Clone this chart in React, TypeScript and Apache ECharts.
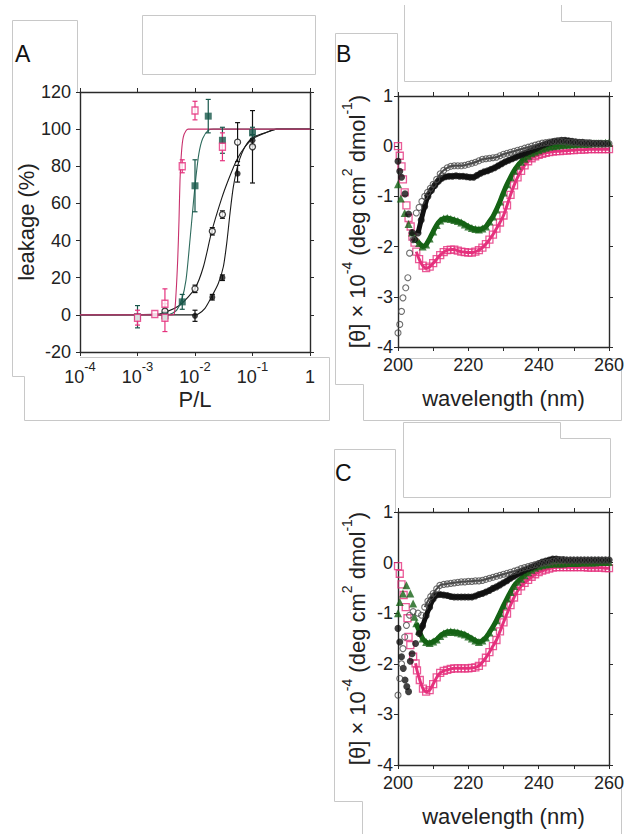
import React, { useEffect, useRef } from 'react';
import * as echarts from 'echarts';

// ---------- Panel A : leakage vs P/L ----------
const A_PINK_X = [1e-3, 2e-3, 3e-3, 3e-3, 6e-3, 1e-2, 3e-2];
const A_PINK_Y = [-1.5, 0.5, 6, -1.5, 80, 110, 90.5];
const A_PINK_ERR = [4, 0, 8, 7.5, 3.5, 5, 7.5];

const A_TEAL_X = [1e-3, 3e-3, 6e-3, 1e-2, 1.7e-2, 3e-2, 1e-1];
const A_TEAL_Y = [-1, -0.5, 7, 69.5, 107, 94, 98];
const A_TEAL_ERR = [6, 2, 4, 14, 9, 7, 3];

const A_OPEN_X = [3e-3, 1e-2, 2e-2, 3e-2, 5.5e-2, 1e-1];
const A_OPEN_Y = [2, 14, 45, 54, 93, 90.5];
const A_OPEN_ERR = [1, 2, 2, 2, 10.5, 19.5];

const A_FILL_X = [3e-3, 1e-2, 2e-2, 3e-2, 5.5e-2, 1e-1];
const A_FILL_Y = [0.5, -0.5, 9.5, 20, 76, 94];
const A_FILL_ERR = [1, 3, 1.5, 1.5, 4.5, 3];

const A_PINK_CURVE: [number, number][] = [
  [1e-4, 0], [3.9e-3, 0], [4.36e-3, 0.5], [4.68e-3, 11.6], [5.0e-3, 29.5], [5.27e-3, 51],
  [5.49e-3, 72.6], [5.86e-3, 88.7], [6.27e-3, 95.9], [6.97e-3, 99.1], [7.63e-3, 100], [1, 100],
];
const A_TEAL_CURVE: [number, number][] = [
  [1e-4, 0], [3.2e-3, 0], [3.67e-3, 0.3], [4.81e-3, 2.6], [5.86e-3, 8], [6.97e-3, 18.7],
  [8.18e-3, 40.3], [9.35e-3, 60], [1.04e-2, 74.4], [1.17e-2, 87], [1.36e-2, 95],
  [1.71e-2, 99.5], [2.1e-2, 100], [1, 100],
];
const A_OPEN_CURVE: [number, number][] = [
  [1e-4, 0], [2.0e-3, 0.3], [2.8e-3, 1], [5.49e-3, 5.3], [1e-2, 14.3], [1.4e-2, 25.9],
  [1.95e-2, 44.8], [2.91e-2, 62.7], [3.8e-2, 72.6], [5.31e-2, 83.4], [7.41e-2, 90.5],
  [0.103, 95], [0.177, 98.3], [0.264, 100], [1, 100],
];
const A_FILL_CURVE: [number, number][] = [
  [1e-4, 0], [9.5e-3, 0], [1.14e-2, 0.5], [1.49e-2, 3.5], [1.95e-2, 9.8], [2.55e-2, 17],
  [3.11e-2, 25.9], [3.56e-2, 38.5], [4.06e-2, 54.6], [4.65e-2, 69], [5.68e-2, 81.6],
  [7.41e-2, 90.5], [0.103, 95.6], [0.177, 98.3], [0.264, 100], [1, 100],
];

// ---------- Panel B : CD spectra ----------
const B_PINK: [number, number][] = [
  [200, 0], [200.5, -0.19], [201, -0.4], [201.4, -0.66], [201.9, -0.92], [202.4, -1.18], [203, -1.43],
  [203.6, -1.6], [204.1, -1.8], [204.7, -1.92], [205.2, -2.1], [206, -2.25], [207, -2.38], [208, -2.43],
  [209, -2.4], [210, -2.33], [211, -2.25], [212, -2.17], [213, -2.11], [214, -2.07], [215, -2.06],
  [216, -2.06], [217, -2.08], [218, -2.1], [219, -2.11], [220, -2.12], [221, -2.12], [222, -2.1],
  [223, -2.07], [224, -2.02], [225, -1.95], [226, -1.86], [227, -1.76], [228, -1.64], [229, -1.52],
  [230, -1.38], [231, -1.18], [232, -0.97], [233, -0.78], [234, -0.62], [235, -0.49], [236, -0.38],
  [237, -0.3], [238, -0.24], [239, -0.2], [240, -0.17], [241, -0.15], [242, -0.13], [243, -0.12],
  [244, -0.11], [245, -0.1], [246, -0.1], [247, -0.09], [248, -0.09], [249, -0.08], [250, -0.08],
  [251, -0.07], [252, -0.07], [253, -0.07], [254, -0.06], [255, -0.06], [256, -0.06], [257, -0.06],
  [258, -0.06], [259, -0.06], [260, -0.06],
];
const B_GREEN: [number, number][] = [
  [200, -0.76], [200.8, -1.04], [201.9, -1.33], [203, -1.55], [204, -1.72], [205, -1.85], [206, -1.93],
  [207, -2.0], [208, -1.96], [209, -1.84], [210, -1.7], [211, -1.57], [212, -1.48], [213, -1.44],
  [214, -1.43], [215, -1.45], [216, -1.47], [217, -1.49], [218, -1.52], [219, -1.56], [220, -1.6],
  [221, -1.63], [222, -1.65], [223, -1.66], [224, -1.64], [225, -1.6], [226, -1.5], [227, -1.4],
  [228, -1.26], [229, -1.1], [230, -0.92], [231, -0.76], [232, -0.62], [233, -0.49], [234, -0.39],
  [235, -0.31], [236, -0.25], [237, -0.19], [238, -0.14], [239, -0.11], [240, -0.08], [241, -0.05],
  [242, -0.03], [243, -0.01], [244, 0], [245, 0.01], [246, 0.02], [247, 0.03], [248, 0.03], [249, 0.04],
  [250, 0.04], [251, 0.05], [252, 0.05], [253, 0.05], [254, 0.05], [255, 0.06], [256, 0.06],
  [257, 0.06], [258, 0.06], [259, 0.07], [260, 0.07],
];
const B_BLACK: [number, number][] = [
  [200, -0.3], [200.5, -0.5], [201, -0.62], [202, -0.95], [203, -1.35], [204, -1.72], [204.7, -1.86],
  [205.7, -1.73], [206.6, -1.47], [207.6, -1.2], [208.5, -1.0], [209.5, -0.88], [210.5, -0.78],
  [211.5, -0.7], [212.5, -0.64], [213.5, -0.61], [214.5, -0.6], [215.5, -0.6], [216.5, -0.59],
  [217.5, -0.6], [218.5, -0.6], [219.5, -0.61], [220.5, -0.62], [221.5, -0.62], [222.5, -0.58],
  [223.5, -0.54], [224.5, -0.51], [225.5, -0.49], [226.5, -0.46], [227.5, -0.43], [228.5, -0.39],
  [229.5, -0.35], [230.5, -0.31], [231.5, -0.28], [232.5, -0.25], [233.5, -0.22], [234.5, -0.19],
  [235.5, -0.16], [236.5, -0.13], [237.5, -0.1], [238.5, -0.07], [239.5, -0.04], [240.5, 0],
  [241.5, 0.03], [242.5, 0.06], [243.5, 0.08], [244.5, 0.1], [245.5, 0.11], [246.5, 0.12],
  [247.5, 0.12], [248.5, 0.11], [249.5, 0.1], [250.5, 0.09], [251.5, 0.08], [252.5, 0.08],
  [253.5, 0.07], [254.5, 0.07], [255.5, 0.06], [256.5, 0.06], [257.5, 0.06], [258.5, 0.05],
  [259.5, 0.05],
];
const B_GRAY: [number, number][] = [
  [200, -3.72], [200.5, -3.55], [201, -3.29], [201.4, -3.02], [202.2, -2.82], [202.8, -2.62],
  [203.3, -2.13], [204.3, -1.86], [205.2, -1.33], [206, -1.22], [206.8, -1.1], [207.6, -1.0],
  [208.4, -0.92], [209.2, -0.84], [210, -0.76], [211, -0.66], [212, -0.55], [213, -0.48], [214, -0.43],
  [215, -0.4], [216, -0.39], [217, -0.39], [218, -0.39], [219, -0.38], [220, -0.36], [221, -0.34],
  [222, -0.32], [223, -0.29], [224, -0.26], [225, -0.25], [226, -0.24], [227, -0.23], [228, -0.22],
  [229, -0.19], [230, -0.16], [231, -0.14], [232, -0.12], [233, -0.1], [234, -0.08], [235, -0.06],
  [236, -0.04], [237, -0.02], [238, 0], [239, 0.02], [240, 0.04], [241, 0.06], [242, 0.07], [243, 0.08],
  [244, 0.09], [245, 0.1], [246, 0.1], [247, 0.09], [248, 0.08], [249, 0.08], [250, 0.07], [251, 0.07],
  [252, 0.06], [253, 0.06], [254, 0.06], [255, 0.05], [256, 0.05], [257, 0.05], [258, 0.05],
  [259, 0.05], [260, 0.05],
];

// ---------- Panel C : CD spectra ----------
const C_PINK: [number, number][] = [
  [200, -0.07], [200.5, -0.22], [201, -0.43], [201.6, -0.64], [202.2, -0.88], [202.7, -1.1], [203, -1.47],
  [203.5, -1.63], [204.3, -1.86], [205, -1.99], [205.4, -2.13], [206.2, -2.32], [207.1, -2.49],
  [208, -2.55], [209, -2.52], [210, -2.4], [211, -2.27], [212, -2.18], [213, -2.14], [214, -2.12],
  [215, -2.1], [216, -2.09], [217, -2.09], [218, -2.09], [219, -2.09], [220, -2.09], [221, -2.08],
  [222, -2.07], [223, -2.04], [224, -1.97], [225, -1.88], [226, -1.77], [227, -1.65], [228, -1.53],
  [229, -1.36], [230, -1.18], [231, -1.01], [232, -0.84], [233, -0.69], [234, -0.56], [235, -0.47],
  [236, -0.4], [237, -0.34], [238, -0.28], [239, -0.23], [240, -0.19], [241, -0.16], [242, -0.14],
  [243, -0.12], [244, -0.1], [245, -0.09], [246, -0.09], [247, -0.09], [248, -0.09], [249, -0.09],
  [250, -0.09], [251, -0.09], [252, -0.09], [253, -0.09], [254, -0.1], [255, -0.1], [256, -0.1],
  [257, -0.1], [258, -0.1], [259, -0.11], [260, -0.11],
];
const C_GREEN: [number, number][] = [
  [200, -1.0], [200.5, -0.78], [201.4, -0.61], [202.4, -0.45], [203.5, -0.61], [204.3, -0.81],
  [204.7, -1.07], [205.2, -1.2], [206, -1.35], [207, -1.5], [208, -1.57], [209, -1.59], [210, -1.56],
  [211, -1.52], [212, -1.45], [213, -1.4], [214, -1.37], [215, -1.36], [216, -1.37], [217, -1.38],
  [218, -1.4], [219, -1.42], [220, -1.46], [221, -1.5], [222, -1.54], [223, -1.57], [224, -1.54],
  [225, -1.48], [226, -1.38], [227, -1.27], [228, -1.14], [229, -1.0], [230, -0.85], [231, -0.71],
  [232, -0.58], [233, -0.46], [234, -0.38], [235, -0.32], [236, -0.25], [237, -0.19], [238, -0.14],
  [239, -0.1], [240, -0.07], [241, -0.05], [242, -0.04], [243, -0.03], [244, -0.02], [245, -0.02],
  [246, -0.02], [247, -0.02], [248, -0.01], [249, -0.01], [250, -0.01], [251, -0.01], [252, 0],
  [253, 0], [254, 0], [255, 0], [256, 0], [257, 0.01], [258, 0.01], [259, 0.01], [260, 0.01],
];
const C_BLACK: [number, number][] = [
  [200, -1.3], [200.5, -1.57], [201, -1.86], [201.5, -2.09], [202, -2.32], [202.5, -2.45], [203, -2.55],
  [203.5, -1.95], [204, -1.8], [205, -1.6], [206, -1.4], [207, -1.25], [208, -1.05], [209, -0.88],
  [210, -0.72], [211, -0.64], [212, -0.63], [213, -0.64], [214, -0.65], [215, -0.67], [216, -0.68],
  [217, -0.68], [218, -0.68], [219, -0.68], [220, -0.68], [221, -0.68], [222, -0.66], [223, -0.63],
  [224, -0.61], [225, -0.58], [226, -0.55], [227, -0.51], [228, -0.48], [229, -0.44], [230, -0.4],
  [231, -0.36], [232, -0.31], [233, -0.27], [234, -0.23], [235, -0.19], [236, -0.15], [237, -0.12],
  [238, -0.09], [239, -0.06], [240, -0.02], [241, 0.01], [242, 0.03], [243, 0.05], [244, 0.07],
  [245, 0.07], [246, 0.06], [247, 0.06], [248, 0.05], [249, 0.05], [250, 0.05], [251, 0.05],
  [252, 0.05], [253, 0.05], [254, 0.05], [255, 0.05], [256, 0.05], [257, 0.05], [258, 0.05],
  [259, 0.05], [260, 0.05],
];
const C_GRAY: [number, number][] = [
  [200, -2.62], [200.5, -2.29], [201, -2.0], [201.4, -1.7], [201.9, -1.47], [202.4, -1.24],
  [203.3, -1.04], [204.3, -0.97], [205.7, -1.0], [206.7, -1.04], [207.6, -0.88], [208.5, -0.76],
  [209.3, -0.67], [210, -0.61], [211, -0.52], [211.9, -0.45], [213, -0.43], [214, -0.42], [215, -0.41],
  [216, -0.4], [217, -0.39], [218, -0.38], [219, -0.38], [220, -0.37], [221, -0.37], [222, -0.36],
  [223, -0.36], [224, -0.35], [225, -0.33], [226, -0.31], [227, -0.29], [228, -0.27], [229, -0.25],
  [230, -0.23], [231, -0.21], [232, -0.19], [233, -0.17], [234, -0.15], [235, -0.12], [236, -0.1],
  [237, -0.08], [238, -0.06], [239, -0.04], [240, -0.03], [241, -0.01], [242, 0], [243, 0.01],
  [244, 0.03], [245, 0.04], [246, 0.05], [247, 0.05], [248, 0.05], [249, 0.05], [250, 0.05],
  [251, 0.05], [252, 0.05], [253, 0.05], [254, 0.05], [255, 0.05], [256, 0.05], [257, 0.05],
  [258, 0.05], [259, 0.05], [260, 0.05],
];

const FONT = "'Liberation Sans', Arial, Helvetica, sans-serif";
const GRAY = '#c8c8c8';
const PINK = '#e5317d';
const PINK_LINE = '#c8306c';
const TEAL = '#17574a';
const TEAL_LINE = '#2e6b5d';
const GREEN = '#156315';
const BLACK = '#111111';
const OPEN_GRAY = '#4a4a4a';
const AXIS = '#2a2a2a';

function pairs(xs: number[], ys: number[]) {
  return xs.map((x, i) => [x, ys[i]]);
}

function errorBars(xs: number[], ys: number[], errs: number[], color: string) {
  const data = xs.map((x, i) => [x, ys[i] - errs[i], ys[i] + errs[i]]);
  return {
    type: 'custom',
    xAxisIndex: 0,
    yAxisIndex: 0,
    data,
    encode: { x: 0, y: [1, 2] },
    z: 3,
    silent: true,
    renderItem: (params: any, api: any) => {
      const x = api.value(0);
      const lo = api.coord([x, api.value(1)]);
      const hi = api.coord([x, api.value(2)]);
      const w = 2.5;
      const st = { stroke: color, lineWidth: 1.2 };
      return {
        type: 'group',
        children: [
          { type: 'line', shape: { x1: lo[0], y1: lo[1], x2: hi[0], y2: hi[1] }, style: st },
          { type: 'line', shape: { x1: lo[0] - w, y1: lo[1], x2: lo[0] + w, y2: lo[1] }, style: st },
          { type: 'line', shape: { x1: hi[0] - w, y1: hi[1], x2: hi[0] + w, y2: hi[1] }, style: st },
        ],
      };
    },
  };
}

const tickLabel = { color: '#222', fontSize: 18, fontFamily: FONT };

function baseAxis(extra: any) {
  return {
    axisLine: { show: true, onZero: false, lineStyle: { color: AXIS, width: 1.4 } },
    axisTick: { show: true, inside: false, length: 4, lineStyle: { color: AXIS, width: 1 } },
    splitLine: { show: false },
    ...extra,
  };
}

const supRich = {
  m: { fontSize: 22, fontFamily: FONT, color: '#222', lineHeight: 28, verticalAlign: 'bottom' },
  s: { fontSize: 14, fontFamily: FONT, color: '#222', lineHeight: 14, verticalAlign: 'top' },
};
const thetaName = '{m|[θ] × 10}{s|-4}{m| (deg cm}{s|2}{m| dmol}{s|-1}{m|)}';

function cdAxes(grid: number) {
  const xs = [
    baseAxis({
      type: 'value', gridIndex: grid, position: 'bottom', min: 200, max: 260, interval: 10,
      axisLabel: { ...tickLabel, margin: 9, formatter: (v: number) => (v % 20 === 0 ? String(v) : '') },
      name: 'wavelength (nm)', nameLocation: 'middle', nameGap: 40,
      nameTextStyle: { fontSize: 22, fontFamily: FONT, color: '#222' },
    }),
    baseAxis({
      type: 'value', gridIndex: grid, position: 'top', min: 200, max: 260, interval: 10,
      axisLabel: { show: false },
    }),
  ];
  const ys = [
    baseAxis({
      type: 'value', gridIndex: grid, position: 'left', min: -4, max: 1, interval: 1,
      axisLabel: { ...tickLabel, margin: 5 },
      name: thetaName, nameLocation: 'middle', nameGap: 30, nameRotate: 90,
      nameTextStyle: { rich: supRich },
    }),
    baseAxis({
      type: 'value', gridIndex: grid, position: 'right', min: -4, max: 1, interval: 1,
      axisLabel: { show: false },
    }),
  ];
  return { xs, ys };
}

function cdSeries(axisIdx: number, pink: any, green: any, black: any, gray: any) {
  const common = { xAxisIndex: axisIdx, yAxisIndex: axisIdx, silent: true };
  // a band drawn under the dense part of each trace, so the overlapping markers read as a continuous band
  const band = (data: [number, number][], from: number, color: string, width: number, z: number) => ({
    ...common, type: 'line', data: data.filter((d) => d[0] >= from), showSymbol: false, symbol: 'none',
    smooth: 0.3, lineStyle: { color, width }, z,
  });
  return [
    band(pink, 205, PINK, 3, 1),
    {
      ...common, type: 'scatter', data: pink, symbol: 'rect', symbolSize: 7, z: 2,
      itemStyle: { color: 'rgba(255,255,255,0)', borderColor: PINK, borderWidth: 1.3 },
    },
    band(green, 205, GREEN, 5, 2),
    {
      ...common, type: 'scatter', data: green, symbol: 'triangle', symbolSize: 8, z: 3,
      itemStyle: { color: GREEN },
    },
    band(black, 205.5, BLACK, 5, 3),
    {
      ...common, type: 'scatter', data: black, symbol: 'circle', symbolSize: 7, z: 4,
      itemStyle: { color: BLACK },
    },
    band(gray, 207, OPEN_GRAY, 2, 4),
    {
      ...common, type: 'scatter', data: gray, symbol: 'circle', symbolSize: 6, z: 5,
      itemStyle: { color: 'rgba(255,255,255,0)', borderColor: OPEN_GRAY, borderWidth: 1.1 },
    },
  ];
}

function poly(points: number[][]) {
  return {
    type: 'polyline', silent: true,
    shape: { points },
    style: { stroke: GRAY, lineWidth: 1, fill: 'none' },
  };
}

export default function App() {
  const ref = useRef<HTMLDivElement>(null);
  useEffect(() => {
    if (!ref.current) return;
    const chart = echarts.init(ref.current, null, { renderer: 'svg' });
    const b = cdAxes(1);
    const c = cdAxes(2);

    const xAxis = [
      baseAxis({
        type: 'log', logBase: 10, gridIndex: 0, position: 'bottom', min: 1e-4, max: 1,
        axisLabel: {
          margin: 8,
          formatter: (v: number) => {
            const e = Math.round(Math.log10(v));
            return e === 0 ? '{m|1}' : '{m|10}{s|' + e + '}';
          },
          rich: {
            m: { fontSize: 18, fontFamily: FONT, color: '#222', lineHeight: 26, verticalAlign: 'bottom' },
            s: { fontSize: 13, fontFamily: FONT, color: '#222', lineHeight: 13, verticalAlign: 'top' },
          },
        },
        name: 'P/L', nameLocation: 'middle', nameGap: 36,
        nameTextStyle: { fontSize: 22, fontFamily: FONT, color: '#222' },
      }),
      baseAxis({
        type: 'log', logBase: 10, gridIndex: 0, position: 'top', min: 1e-4, max: 1,
        axisLabel: { show: false },
      }),
      ...b.xs,
      ...c.xs,
    ];
    const yAxis = [
      baseAxis({
        type: 'value', gridIndex: 0, position: 'left', min: -20, max: 120, interval: 20,
        axisLabel: { ...tickLabel, margin: 9 },
        name: 'leakage (%)', nameLocation: 'middle', nameGap: 42, nameRotate: 90,
        nameTextStyle: { fontSize: 22, fontFamily: FONT, color: '#222' },
      }),
      baseAxis({
        type: 'value', gridIndex: 0, position: 'right', min: -20, max: 120, interval: 20,
        axisLabel: { show: false },
      }),
      ...b.ys,
      ...c.ys,
    ];
    const curve = (data: any, color: string) => ({
      type: 'line', xAxisIndex: 0, yAxisIndex: 0, data, showSymbol: false, symbol: 'none',
      smooth: 0.25, lineStyle: { color, width: 1.1 }, z: 2, silent: true,
    });
    const aPoints = (data: any, symbol: string, size: any, style: any, z = 4) => ({
      type: 'scatter', xAxisIndex: 0, yAxisIndex: 0, data, symbol, symbolSize: size,
      itemStyle: style, z, silent: true,
    });

    const series: any[] = [
      curve(A_FILL_CURVE, '#1a1a1a'),
      curve(A_OPEN_CURVE, '#1a1a1a'),
      curve(A_TEAL_CURVE, TEAL_LINE),
      curve(A_PINK_CURVE, PINK_LINE),
      errorBars(A_FILL_X, A_FILL_Y, A_FILL_ERR, BLACK),
      errorBars(A_OPEN_X, A_OPEN_Y, A_OPEN_ERR, BLACK),
      errorBars(A_TEAL_X, A_TEAL_Y, A_TEAL_ERR, TEAL),
      errorBars(A_PINK_X, A_PINK_Y, A_PINK_ERR, PINK),
      aPoints(pairs(A_FILL_X, A_FILL_Y), 'circle', 6, { color: BLACK }),
      aPoints(pairs(A_OPEN_X, A_OPEN_Y), 'circle', 6, { color: '#fff', borderColor: BLACK, borderWidth: 1.3 }),
      aPoints(pairs(A_TEAL_X, A_TEAL_Y), 'rect', 7, { color: TEAL }, 5),
      aPoints(pairs(A_PINK_X, A_PINK_Y), 'rect', [6, 7], { color: '#fff', borderColor: PINK, borderWidth: 1.4 }, 6),
      ...cdSeries(2, B_PINK, B_GREEN, B_BLACK, B_GRAY),
      ...cdSeries(4, C_PINK, C_GREEN, C_BLACK, C_GRAY),
    ];

    const letter = (t: string, left: number, top: number) => ({
      type: 'text', left, top, silent: true,
      style: { text: t, font: `23px ${FONT}`, fill: '#111' },
    });

    chart.setOption({
      animation: false,
      backgroundColor: '#ffffff',
      grid: [
        { left: 80, top: 92, width: 230, height: 260 },
        { left: 398, top: 96, width: 211, height: 251 },
        { left: 398, top: 512, width: 211, height: 253 },
      ],
      xAxis,
      yAxis,
      series,
      graphic: [
        { type: 'rect', silent: true, shape: { x: 142.5, y: 15.5, width: 173, height: 59 }, style: { fill: 'none', stroke: GRAY, lineWidth: 1 } },
        poly([[80, 357.5], [329.5, 357.5], [329.5, 420.5], [24.5, 420.5], [24.5, 376.5], [12.5, 376.5], [12.5, 20.5], [77.5, 20.5], [77.5, 92]]),
        poly([[404.5, 5], [404.5, 81.5], [611.5, 81.5], [611.5, 21.5], [561.5, 21.5], [561.5, 5]]),
        poly([[398, 358.5], [621.5, 358.5], [621.5, 420.5], [363.5, 420.5], [363.5, 384.5], [335.5, 384.5], [335.5, 33.5], [397.5, 33.5], [397.5, 96]]),
        poly([[403.5, 422.5], [560.5, 422.5], [560.5, 438.5], [610.5, 438.5], [610.5, 497.5], [403.5, 497.5], [403.5, 422.5]]),
        poly([[398, 776.5], [621.5, 776.5], [621.5, 834]]),
        poly([[362.5, 834], [362.5, 801.5], [334.5, 801.5], [334.5, 449.5], [395.5, 449.5], [395.5, 512]]),
        letter('A', 15, 42),
        letter('B', 336, 42),
        letter('C', 335, 461),
      ],
    });
    return () => chart.dispose();
  }, []);

  return (
    <div
      ref={ref}
      style={{ position: 'absolute', left: 0, top: 0, width: 628, height: 834, background: '#fff' }}
    />
  );
}
